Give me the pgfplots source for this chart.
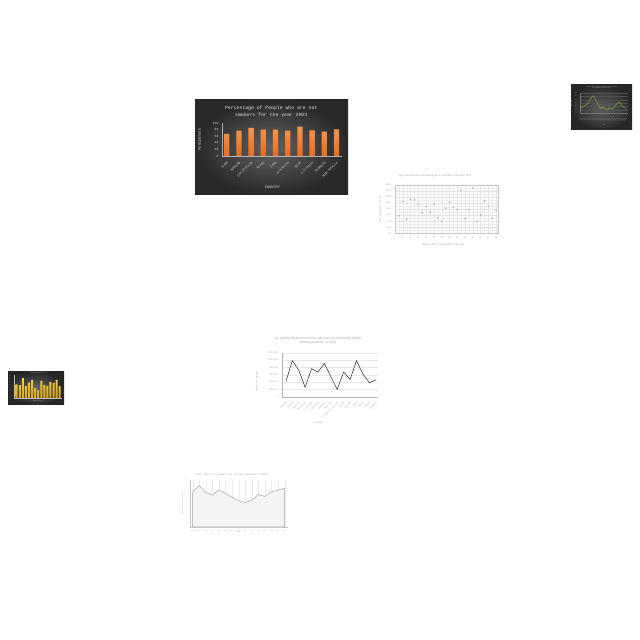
\documentclass[border=0pt]{standalone}
\usepackage{pgfplots}
\pgfplotsset{compat=1.18}
\usepackage{fontspec}
\setmainfont{Liberation Sans}
\newfontfamily\mono{Liberation Mono}
\newfontfamily\serif{Liberation Serif}
\newcommand\fs[1]{\fontsize{#1}{#1}\selectfont}
\newcommand\fsl[2]{\fontsize{#1}{#2}\selectfont}
\definecolor{lgreen}{RGB}{140,190,60}
\pgfplotsset{every axis/.append style={/pgf/number format/assume math mode=true, scale only axis, axis line style={-}}}
\begin{document}
\begin{tikzpicture}[x=1pt,y=1pt]
\fill[white] (0,0) rectangle (640,640);
% ---------- chart 1 panel ----------
\shade[inner color=black!62, outer color=black!84] (195,445) rectangle (348,540);
\begin{axis}[at={(222pt,484pt)}, anchor=south west, width=120pt, height=33pt,
  ymin=0, ymax=100, xmin=-0.39, xmax=9.45,
  ytick={0,20,...,100}, xtick={0,...,9},
  xticklabels={Guam,Nevada,California,Texas,Iowa,Arkansas,Utah,Illinois,Indiana,New Mexico},
  axis x line*=bottom, axis y line*=left, axis line style={gray!60, line width=0.4pt},
  major tick length=0pt,
  yticklabel style={font=\mono\fs{3.2}, text=gray!35},
  xticklabel style={font=\mono\fs{3.4}, rotate=45, anchor=north east, text=white!85!black},
  title={Percentage of People who are not\\smokers for the year 2003},
  title style={font=\mono\fsl{4.8}{7}, text=white!88!black, align=center, at={(axis description cs:0.41,1.35)}, anchor=center, yshift=-6pt},
  ylabel={PERCENTAGE}, ylabel style={font=\mono\fs{3.6}, text=white!85!black, at={(axis description cs:-0.185,0.5)}, anchor=center, rotate=0},
  xlabel={COUNTRY}, xlabel style={font=\mono\fs{3.6}, text=white!85!black, at={(axis description cs:0.42,-0.94)}, anchor=center},
]
\addplot[ybar, bar width=5.3pt, draw=none, top color={rgb,255:red,247;green,150;blue,80}, bottom color={rgb,255:red,232;green,108;blue,30}]
 coordinates {(0,67) (1,77) (2,85) (3,80) (4,80) (5,77) (6,89) (7,78) (8,74) (9,81)};
\end{axis}
% ---------- chart 2 (tiny, top right) ----------
\shade[inner color=black!62, outer color=black!85] (571,510) rectangle (632,555);
\begin{axis}[at={(580pt,527pt)}, anchor=south west, width=48pt, height=20pt,
  ymin=0, ymax=60, xmin=-0.5, xmax=19.5, ytick={0,10,...,60}, xtick={0,...,19},
  xticklabels={Jan 1,Jan 2,Jan 3,Jan 4,Jan 5,Jan 6,Jan 7,Jan 8,Jan 9,Jan 10,Jan 11,Jan 12,Jan 13,Jan 14,Jan 15,Jan 16,Jan 17,Jan 18,Jan 19,Jan 20},
  axis x line*=bottom, axis y line*=left, axis line style={black!55, line width=0.2pt},
  major tick length=0pt, ymajorgrids, grid style={black!68, line width=0.1pt},
  yticklabel style={font=\fs{1.2}, text=gray!45},
  xticklabel style={font=\fs{1.2}, rotate=45, anchor=north east, text=gray!45},
  title={Average daily temperature recorded in the city during\\the first twenty days of the year},
  title style={font=\fs{1.3}, text=gray!45, align=center, at={(axis description cs:0.45,1.28)}, anchor=center, yshift=-6pt},
  ylabel={Temperature}, ylabel style={font=\fs{1.2}, text=gray!45, at={(axis description cs:-0.17,0.5)}, anchor=center},
  xlabel={Days}, xlabel style={font=\fs{1.2}, text=gray!45, at={(axis description cs:0.5,-0.62)}, anchor=center},
]
\addplot[lgreen, line width=0.35pt] coordinates {(0,15) (1,20) (2,25) (3,30) (4,45) (5,52) (6,40) (7,25) (8,15) (9,18) (10,12) (11,10) (12,15) (13,12) (14,20) (15,30) (16,32) (17,22) (18,15) (19,12)};
\end{axis}
% ---------- chart 3 scatter ----------
\begin{axis}[at={(395pt,406.7pt)}, anchor=south west, width=102.7pt, height=48.3pt,
  ymin=0, ymax=160, xmin=0, xmax=26.4, ytick={0,20,...,160}, xtick={0,2,...,26},
  minor x tick num=1, minor y tick num=1, grid=both, grid style={gray!22, line width=0.2pt}, minor grid style={gray!14, line width=0.15pt},
  axis line style={gray!45, line width=0.3pt}, major tick length=0pt, minor tick length=0pt,
  yticklabel style={font=\fs{2.3}, text=gray!75, /pgf/number format/.cd, fixed, fixed zerofill, precision=1},
  xticklabel style={font=\fs{2.3}, text=gray!75},
  title={Agricultural land sales during the second half of the year 1970},
  title style={font=\serif\fs{2.9}, text=gray!75, at={(axis description cs:0.39,1.19)}, anchor=center, yshift=-6pt},
  ylabel={Sales in thousands of dollars}, ylabel style={font=\serif\fs{2.3}, text=gray!75, at={(axis description cs:-0.146,0.5)}, anchor=center},
  xlabel={Weeks of the second half of the year}, xlabel style={font=\serif\fs{2.9}, text=gray!75, at={(axis description cs:0.47,-0.24)}, anchor=center},
]
\addplot[only marks, mark=*, mark size=0.55pt, gray!65] coordinates {
(1,58) (2,105) (3,47) (4,112) (5,111) (6,93) (7,68) (8,89) (9,70) (10,97) (11,52) (12,40) (13,83) (14,103) (15,86) (16,79) (17,143) (18,49) (19,79) (20,150) (21,39) (22,61) (23,107) (24,89) (25,50) (26,75)};
\end{axis}
% ---------- chart 4 (tiny, left) ----------
\shade[inner color=black!60, outer color=black!85] (8,235) rectangle (64,268);
\begin{axis}[at={(14pt,242pt)}, anchor=south west, width=48pt, height=23pt,
  ymin=0, ymax=72, xmin=-0.88, xmax=14.75, ytick={0,10,...,70}, xtick={0,...,14},
  xticklabels={}, axis x line*=bottom, axis y line*=left, axis line style={gray!55, line width=0.2pt},
  major tick length=0pt,
  yticklabel style={font=\fs{1.1}, text=gray!45},
  title={Number of visitors per month}, title style={font=\fs{1.2}, text=gray!45, at={(axis description cs:0.5,1.08)}, anchor=center, yshift=-6pt},
  xlabel={Months of the year}, xlabel style={font=\fs{1.2}, text=gray!45, at={(axis description cs:0.5,-0.13)}, anchor=center},
]
\addplot[ybar, bar width=2pt, draw=none, top color={rgb,255:red,250;green,210;blue,70}, bottom color={rgb,255:red,215;green,160;blue,20}]
 coordinates {(0,43) (1,40) (2,62) (3,37) (4,48) (5,56) (6,32) (7,25) (8,54) (9,40) (10,38) (11,50) (12,47) (13,57) (14,37)};
\end{axis}
% ---------- chart 5 air quality ----------
\begin{axis}[at={(281.7pt,243.3pt)}, anchor=south west, width=96.3pt, height=44pt,
  ymin=0, ymax=1200000, xmin=-0.65, xmax=14.35, ytick={0,200000,...,1200000}, xtick={0,...,14},
  scaled y ticks=false,
  xticklabels={Alabama,Arizona,California,New Jersey,Colorado,Connecticut,Delaware,New York,District of Columbia,Florida,Georgia,Idaho,Illinois,Indiana,Maryland},
  axis x line*=bottom, axis y line*=left, axis line style={gray!60, line width=0.35pt},
  major tick length=0pt, ymajorgrids, grid style={gray!18, line width=0.2pt},
  yticklabel style={font=\fs{2.4}, text=gray!70, /pgf/number format/.cd, fixed, 1000 sep={,}},
  xticklabel style={font=\fs{2.2}, rotate=45, anchor=north east, text=gray!70},
  title={Air quality Measures on the national environmental health\\tracking network in 2013},
  title style={font=\fsl{3.4}{4.6}, text=gray!70, align=center, at={(axis description cs:0.377,1.277)}, anchor=center, yshift=-6pt},
  ylabel={Value of air quality}, ylabel style={font=\fs{2.5}, text=gray!70, at={(axis description cs:-0.256,0.34)}, anchor=center},
  xlabel={Country}, xlabel style={font=\fs{2.5}, text=gray!70, at={(axis description cs:0.377,-0.6)}, anchor=center},
]
\addplot[black!75, line width=0.6pt] coordinates {
(0,409000) (1,982000) (2,727000) (3,255000) (4,764000) (5,673000) (6,909000) (7,545000) (8,200000) (9,673000) (10,473000) (11,982000) (12,618000) (13,382000) (14,455000)};
\end{axis}
% ---------- chart 6 area line ----------
\begin{axis}[at={(190pt,113pt)}, anchor=south west, width=98pt, height=47pt,
  ymin=0, ymax=24, xmin=-0.4, xmax=14.5, ytick={0,2,...,24}, xtick={0,...,14},
  xticklabels={2004,2005,2006,2007,2008,2009,2010,2011,2012,2013,2014,2015,2016,2017,2018},
  axis x line*=bottom, axis y line*=left, axis line style={gray!45, line width=0.3pt},
  major tick length=0pt, xmajorgrids, grid style={gray!15, line width=0.2pt},
  yticklabel style={font=\fs{1.5}, text=gray!65},
  xticklabel style={font=\fs{1.4}, text=gray!65},
  title={Daily - Tokens - Per Week - Avg. Per year / Weekday of Tokens},
  title style={font=\fs{2.6}, text=gray!65, at={(axis description cs:0.43,1.11)}, anchor=center, yshift=-6pt},
  ylabel={No. of Tokens (in thousands)}, ylabel style={font=\fs{1.7}, text=gray!65, at={(axis description cs:-0.075,0.5)}, anchor=center},
  xlabel={Years}, xlabel style={font=\fs{1.7}, text=gray!65, at={(axis description cs:0.5,-0.1)}, anchor=center},
]
\addplot[draw=gray!70, line width=0.5pt, fill=gray!9] coordinates {
(0,18) (1,21.1) (2,17.6) (3,16.2) (4,18.9) (5,17.1) (6,15.1) (7,13.4) (8,12.5) (9,13.7) (10,16.6) (11,15.6) (12,18) (13,18.9) (14,19.7)} \closedcycle;
\end{axis}
\pgfresetboundingbox
\useasboundingbox (0,0) rectangle (640,640);
\end{tikzpicture}
\end{document}
